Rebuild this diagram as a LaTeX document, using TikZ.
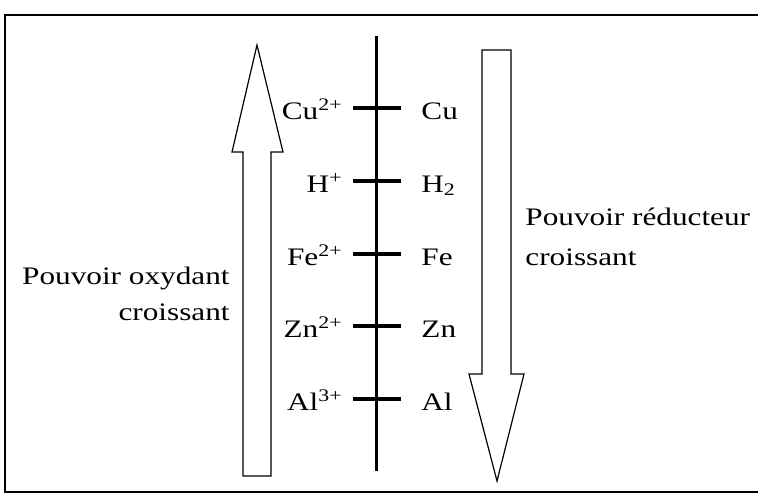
\documentclass[tikz,border=0pt]{standalone}
\usepackage{fontspec}
\setmainfont[FakeStretch=1.24]{Liberation Serif}
\begin{document}
\begin{tikzpicture}[x=0.5pt,y=-0.5pt,font=\fontsize{12.6}{15}\selectfont,
    fleche/.style={draw,line width=0.6pt,fill=white,line join=miter},
    lab/.style={inner sep=0pt}]
    \useasboundingbox (0,0) rectangle (758,495);
    \draw[line width=0.8pt] (758,15) -- (5,15) -- (5,492) -- (758,492);
    % fleches
    \draw[fleche] (243,476) -- (243,152) -- (232,152) -- (257,45) -- (283,152) -- (271,152) -- (271,476) -- cycle;
    \draw[fleche] (482,50) -- (511,50) -- (511,374) -- (524,374) -- (497,481) -- (469,374) -- (482,374) -- cycle;
    % axe et couples
    \draw[line width=1.6pt] (376.5,36) -- (376.5,471);
    \foreach \y/\ox/\red [count=\i] in {108/{Cu\textsuperscript{2+}}/Cu, 181/{H\textsuperscript{+}}/{H\textsubscript{2}},
        254/{Fe\textsuperscript{2+}}/Fe, 326/{Zn\textsuperscript{2+}}/Zn, 399/{Al\textsuperscript{3+}}/Al}
    {
      \draw[line width=1.6pt] (353,\y) -- (401,\y);
      \node[lab,anchor=base east] (ox-\i) at (343,\y+11) {\ox};
      \node[lab,anchor=base west] (red-\i) at (421,\y+11) {\red};
    }
    \node[lab,anchor=base east] (txt-ox-1) at (230,284) {Pouvoir oxydant};
    \node[lab,anchor=base east] (txt-ox-2) at (230,320) {croissant};
    \node[lab,anchor=base west] (txt-red-1) at (525,225) {Pouvoir réducteur};
    \node[lab,anchor=base west] (txt-red-2) at (525,265) {croissant};
\end{tikzpicture}
\end{document}
